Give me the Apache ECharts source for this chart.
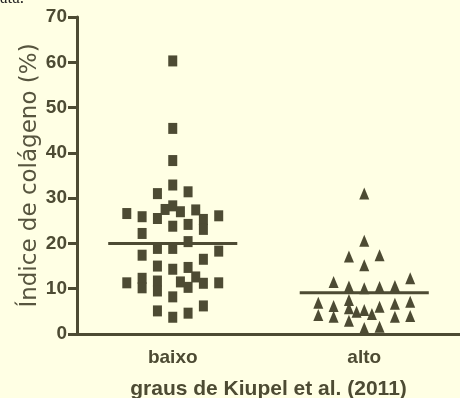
<!DOCTYPE html>
<html><head><meta charset="utf-8">
<script src="https://cdn.jsdelivr.net/npm/echarts@6/dist/echarts.min.js"></script>
<style>html,body{margin:0;padding:0;background:#FFFFE4;}#c{width:460px;height:398px;}</style>
</head><body><div id="c"></div>
<script>
var categories = ['baixo', 'alto'];
var yTicks = [0, 10, 20, 30, 40, 50, 60, 70];
var baixoValues = [60.3,45.4,38.3,32.9,31.0,31.4,26.6,25.9,25.5,27.5,28.3,27.0,27.4,25.3,23.1,26.1,23.8,24.2,22.2,20.4,18.9,18.9,18.3,17.4,16.5,15.0,14.3,14.7,11.3,12.3,10.2,11.7,9.5,11.5,12.6,10.3,11.2,11.3,8.2,6.2,5.1,3.7,4.6];
var baixoColumn = [0,0,0,0,-1,1,-3,-2,-1,-0.5,0,0.5,1.5,2,2,3,0,1,-2,1,-1,0,3,-2,2,-1,0,1,-3,-2,-2,-1,-1,0.5,1.5,1,2,3,0,2,-1,0,1];
var altoValues = [31.0,20.6,17.1,17.4,15.2,11.5,12.3,10.5,10.1,10.4,10.6,6.9,4.2,6.2,3.8,7.5,5.7,2.9,4.9,5.3,4.4,6.0,6.7,3.8,7.1,4.0,1.3,1.6];
var altoColumn = [0,0,-1,1,0,-2,3,-1,0,1,2,-3,-3,-2,-2,-1,-1,-1,-0.5,0,0.5,1,2,2,3,3,0,1];
var means = [20.0, 9.1];

var ink = '#4d4b33';
var step = 0.08, half = 0.337;
function pts(vals, cols, ci) {
  return vals.map(function (v, i) { return [ci + 0.5 + cols[i] * step, v]; });
}
var chart = echarts.init(document.getElementById('c'), null, {renderer: 'canvas'});
chart.setOption({
  backgroundColor: '#FFFFE4',
  animation: false,
  grid: {left: 77, right: 0, top: 17, bottom: 64, containLabel: false, outerBoundsMode: 'none'},
  xAxis: {
    type: 'value', min: 0, max: 2, interval: 0.5,
    splitLine: {show: false}, axisTick: {show: false},
    axisLine: {lineStyle: {color: ink, width: 3}},
    axisLabel: {
      margin: 14, color: ink, fontFamily: 'Liberation Sans', fontWeight: 'bold', fontSize: 19,
      formatter: function (v) { var k = Math.round(v * 2); return (k % 2 === 1) ? categories[(k - 1) / 2] : ''; }
    },
    name: 'graus de Kiupel et al. (2011)', nameLocation: 'middle', nameGap: 45, nameMoveOverlap: false,
    nameTextStyle: {color: ink, fontFamily: 'Liberation Sans', fontWeight: 'bold', fontSize: 21}
  },
  yAxis: {
    type: 'value', min: yTicks[0], max: yTicks[yTicks.length - 1], interval: 10,
    splitLine: {show: false},
    axisLine: {show: true, lineStyle: {color: ink, width: 3}},
    axisTick: {show: true, length: 9, lineStyle: {color: ink, width: 3}},
    axisLabel: {margin: 10, color: ink, fontFamily: 'Liberation Sans', fontWeight: 'bold', fontSize: 19},
    name: 'Índice de colágeno (%)', nameLocation: 'middle', nameGap: 35, nameRotate: 90, nameMoveOverlap: false,
    nameTextStyle: {color: '#57553f', fontFamily: 'DejaVu Sans', fontSize: 23}
  },
  graphic: [{type: 'text', left: 0, top: -10, style: {text: 'ata.', font: '17px "Liberation Serif"', fill: '#222'}}],
  series: [
    {type: 'scatter', symbol: 'rect', symbolSize: [9, 11], itemStyle: {color: ink, opacity: 1}, data: pts(baixoValues, baixoColumn, 0)},
    {type: 'scatter', symbol: 'triangle', symbolSize: [10, 12], itemStyle: {color: ink, opacity: 1}, data: pts(altoValues, altoColumn, 1)},
    {type: 'line', symbol: 'none', lineStyle: {color: ink, width: 3}, data: [[0.5 - half, means[0]], [0.5 + half, means[0]]]},
    {type: 'line', symbol: 'none', lineStyle: {color: ink, width: 3}, data: [[1.5 - half, means[1]], [1.5 + half, means[1]]]}
  ]
});
</script></body></html>
